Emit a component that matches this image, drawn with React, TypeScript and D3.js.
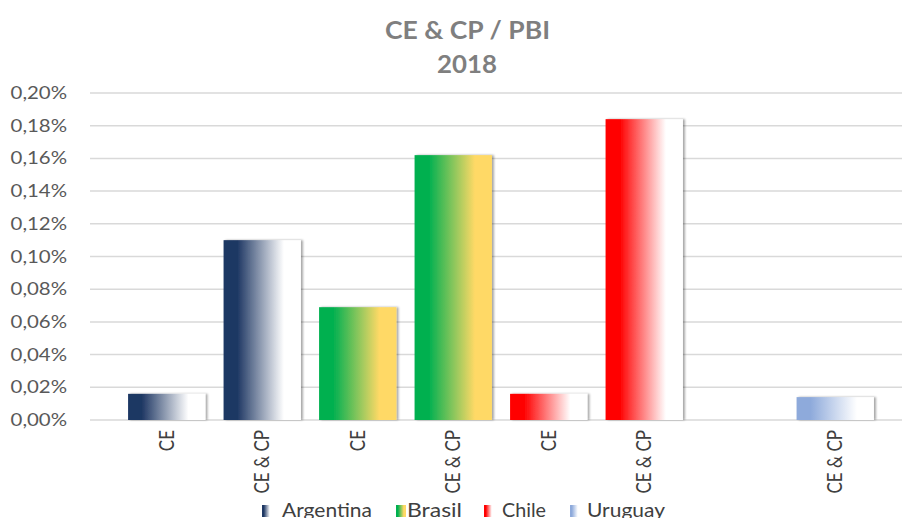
import React from "react";
import * as d3 from "d3";

const categories = ["CE", "CE & CP", "CE", "CE & CP", "CE", "CE & CP", "", "CE & CP"];
const countryOfBar = ["Argentina", "Argentina", "Brasil", "Brasil", "Chile", "Chile", "Uruguay", "Uruguay"];
const values: (number | null)[] = [0.016, 0.110, 0.069, 0.162, 0.016, 0.184, null, 0.014];
const yTicks = [0, 0.02, 0.04, 0.06, 0.08, 0.1, 0.12, 0.14, 0.16, 0.18, 0.2];
const legendItems = ["Argentina", "Brasil", "Chile", "Uruguay"];
const gradStops: Record<string, [string, string]> = {
  Argentina: ["#1f3864", "#ffffff"],
  Brasil: ["#00b050", "#ffd966"],
  Chile: ["#ff0000", "#ffffff"],
  Uruguay: ["#8eaadb", "#ffffff"],
};

const W = 902;
const H = 518;
const plotLeft = 90;
const plotRight = 902;
const plotTop = 93;
const plotBottom = 420;

export default function App() {
  const x = d3
    .scaleBand<number>()
    .domain(categories.map((_, i) => i))
    .range([119, 883])
    .paddingInner(0.19)
    .paddingOuter(0.095);
  const y = d3.scaleLinear().domain([0, 0.2]).range([plotBottom, plotTop]);
  const fmt = (v: number) => v.toFixed(2).replace(".", ",") + "%";
  const font = "Lato, 'Open Sans', sans-serif";

  const legendPos = [
    { sx: 262, tx: 282, len: 90 },
    { sx: 396, tx: 407, len: 55 },
    { sx: 484, tx: 502, len: 44 },
    { sx: 570, tx: 587, len: 78 },
  ];

  return (
    <svg
      width={W}
      height={H}
      style={{ position: "absolute", left: 0, top: 0, background: "#fff" }}
      fontFamily={font}
    >
      <defs>
        {legendItems.map((c) => (
          <linearGradient key={c} id={"g-" + c} x1="0" x2="1" y1="0" y2="0">
            <stop offset="0.18" stopColor={gradStops[c][0]} />
            <stop offset="0.78" stopColor={gradStops[c][1]} />
          </linearGradient>
        ))}
        <filter id="shadow" x="-10%" y="-10%" width="130%" height="120%">
          <feDropShadow dx="2" dy="0" stdDeviation="1" floodColor="#000" floodOpacity="0.35" />
        </filter>
      </defs>
      <rect width={W} height={H} fill="#fff" />
      <text
        x={385}
        y={39}
        fontSize={25}
        fontWeight="bold"
        fill="#7f7f7f"
        textLength={165}
        lengthAdjust="spacingAndGlyphs"
      >
        CE &amp; CP / PBI
      </text>
      <text
        x={437}
        y={73}
        fontSize={25}
        fontWeight="bold"
        fill="#7f7f7f"
        textLength={60}
        lengthAdjust="spacingAndGlyphs"
      >
        2018
      </text>
      {yTicks.map((t) => (
        <g key={t}>
          <line
            x1={plotLeft}
            x2={plotRight}
            y1={y(t)}
            y2={y(t)}
            stroke="#d9d9d9"
            strokeWidth={1.5}
          />
          <text
            transform={`translate(67,${y(t) + 6}) scale(1.2,1)`}
            textAnchor="end"
            fontSize={17}
            fill="#595959"
          >
            {fmt(t)}
          </text>
        </g>
      ))}
      {values.map((v, i) =>
        v == null ? null : (
          <rect
            key={i}
            x={x(i)}
            y={y(v)}
            width={x.bandwidth()}
            height={plotBottom - y(v)}
            fill={`url(#g-${countryOfBar[i]})`}
            filter="url(#shadow)"
          />
        )
      )}
      {categories.map((c, i) => {
        const cx = (x(i) as number) + x.bandwidth() / 2;
        return (
          <text
            key={i}
            transform={`translate(${cx + 7},430) scale(1.2,1) rotate(-90)`}
            textAnchor="end"
            fontSize={17}
            fill="#404040"
          >
            {c}
          </text>
        );
      })}
      {legendItems.map((c, i) => (
        <g key={c}>
          <rect x={legendPos[i].sx} y={505} width={10} height={12} fill={`url(#g-${c})`} />
          <text
            x={legendPos[i].tx}
            y={517}
            fontSize={20}
            fill="#404040"
            textLength={legendPos[i].len}
            lengthAdjust="spacingAndGlyphs"
          >
            {c}
          </text>
        </g>
      ))}
    </svg>
  );
}
